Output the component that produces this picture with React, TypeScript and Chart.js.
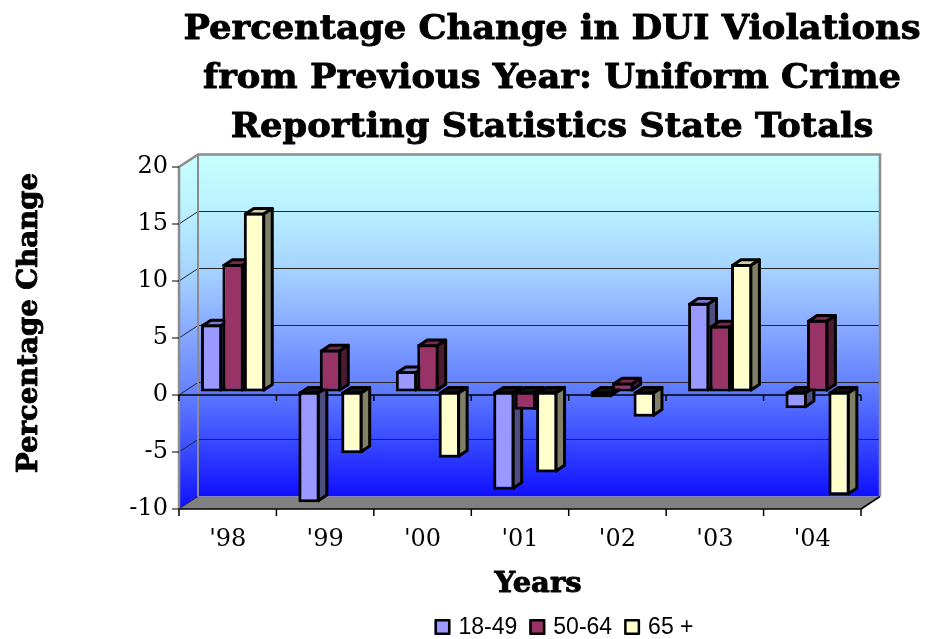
import React, { useEffect, useRef } from "react";
import { Chart, registerables } from "chart.js";

Chart.register(...registerables);

// ---------- data ----------
const categories = ["'98", "'99", "'00", "'01", "'02", "'03", "'04"];
const seriesLabels = ["18-49", "50-64", "65 +"];
const age18to49 = [5.9, -9.7, 1.8, -8.6, -0.5, 7.8, -1.45];
const age50to64 = [11.2, 3.7, 4.15, -1.6, 0.8, 5.8, 6.3];
const age65plus = [15.7, -5.4, -5.8, -7.1, -2.2, 11.2, -9.1];
const yMin = -10;
const yMax = 20;
const yStep = 5;
const titleLines = [
  "Percentage Change in DUI Violations",
  "from Previous Year: Uniform Crime",
  "Reporting Statistics State Totals",
];
const xTitle = "Years";
const yTitle = "Percentage Change";

// ---------- styles ----------
const frontColors = ["#9999ff", "#993366", "#ffffcc"];
const topColors = ["#7b7bcf", "#7a2a52", "#cfcfa5"];
const sideColors = ["#4d4d80", "#4d1a33", "#808066"];
const SERIF = "'DejaVu Serif'";
const SANS = "'Liberation Sans'";

const WALL_DX = 19;
const WALL_DY = -12.5;
const BAR_DX = 5.4;
const BAR_DY = -3.4;
const DEPTH_DX = 8.5;
const DEPTH_DY = -5.7;
const BW = 3;

function wallGradient(ctx: CanvasRenderingContext2D, y0: number, y1: number) {
  const g = ctx.createLinearGradient(0, y0, 0, y1);
  g.addColorStop(0, "#c8ffff");
  g.addColorStop(0.167, "#b8f0ff");
  g.addColorStop(0.333, "#a6d4ff");
  g.addColorStop(0.5, "#88aaff");
  g.addColorStop(0.667, "#6482ff");
  g.addColorStop(0.833, "#3a4cff");
  g.addColorStop(1, "#0f0fff");
  return g;
}

function poly(ctx: CanvasRenderingContext2D, pts: number[][]) {
  ctx.beginPath();
  ctx.moveTo(pts[0][0], pts[0][1]);
  for (let i = 1; i < pts.length; i++) ctx.lineTo(pts[i][0], pts[i][1]);
  ctx.closePath();
}

function line(ctx: CanvasRenderingContext2D, x0: number, y0: number, x1: number, y1: number) {
  ctx.beginPath();
  ctx.moveTo(x0, y0);
  ctx.lineTo(x1, y1);
  ctx.stroke();
}

function heavyText(ctx: CanvasRenderingContext2D, t: string, x: number, y: number) {
  ctx.fillText(t, x, y);
  ctx.strokeText(t, x, y);
}

const threeDPlugin = {
  id: "threeD",
  beforeDraw(chart: any) {
    const ctx: CanvasRenderingContext2D = chart.ctx;
    const { left, right, top, bottom } = chart.chartArea;
    const ys = chart.scales.y;
    const n = categories.length;
    const bl = left + WALL_DX;
    const br = right + WALL_DX;
    const bt = top + WALL_DY;
    const bb = bottom + WALL_DY;
    ctx.save();
    // back wall
    ctx.fillStyle = wallGradient(ctx, bt, bb);
    ctx.fillRect(bl, bt, br - bl, bb - bt);
    // left wall
    ctx.fillStyle = wallGradient(ctx, bt, bottom);
    poly(ctx, [[left, top], [bl, bt], [bl, bb], [left, bottom]]);
    ctx.fill();
    // floor
    ctx.fillStyle = "#808080";
    poly(ctx, [[left, bottom], [bl, bb], [br, bb], [right, bottom]]);
    ctx.fill();
    // gridlines
    ctx.strokeStyle = "#262626";
    ctx.lineWidth = 1;
    for (let v = yMin; v < yMax; v += yStep) {
      const py = ys.getPixelForValue(v);
      if (v > yMin) line(ctx, bl, py + WALL_DY, br, py + WALL_DY);
      line(ctx, left, py, bl, py + WALL_DY);
    }
    // wall borders
    ctx.strokeStyle = "#8c8c8c";
    ctx.lineWidth = 2.5;
    ctx.beginPath();
    ctx.moveTo(left, bottom);
    ctx.lineTo(left, top);
    ctx.lineTo(bl, bt);
    ctx.lineTo(br, bt);
    ctx.lineTo(br, bb);
    ctx.stroke();
    ctx.lineWidth = 2;
    line(ctx, bl, bt, bl, bb);
    // floor right edge + bottom axis
    ctx.strokeStyle = "#000";
    ctx.lineWidth = 1.5;
    line(ctx, right, bottom, br, bb);
    line(ctx, left, bottom, right, bottom);
    const y0 = ys.getPixelForValue(0);
    line(ctx, left, y0, right, y0);
    for (let i = 0; i <= n; i++) {
      const px = left + (i * (right - left)) / n;
      line(ctx, px, bottom, px, bottom + 7);
      line(ctx, px, y0, px, y0 + 6);
    }
    // y ticks
    ctx.lineWidth = 1;
    for (let v = yMin; v <= yMax; v += yStep) {
      const py = ys.getPixelForValue(v);
      line(ctx, left - 7, py, left, py);
    }
    ctx.restore();
  },
  beforeDatasetDraw() {
    return false;
  },
  afterDatasetsDraw(chart: any) {
    const ctx: CanvasRenderingContext2D = chart.ctx;
    const metas = chart.data.datasets.map((_: any, i: number) => chart.getDatasetMeta(i));
    ctx.save();
    ctx.translate(BAR_DX, BAR_DY);
    const h = BW / 2;
    for (let c = 0; c < categories.length; c++) {
      metas.forEach((meta: any, d: number) => {
        const el = meta.data[c];
        if (!el) return;
        el.draw(ctx);
        const { x, y, base, width } = el.getProps(["x", "y", "base", "width"], true);
        const L = x - width / 2 + h;
        const R = x + width / 2 - h;
        const positive = y <= base;
        const T = Math.min(y, base) + h;
        const B = Math.max(y, base) - h;
        ctx.lineWidth = BW;
        ctx.lineJoin = "round";
        ctx.strokeStyle = "#000";
        // top face
        poly(ctx, [[L, T], [L + DEPTH_DX, T + DEPTH_DY], [R + DEPTH_DX, T + DEPTH_DY], [R, T]]);
        ctx.fillStyle = positive ? topColors[d] : "#111111";
        ctx.fill();
        ctx.stroke();
        // side face
        poly(ctx, [[R, T], [R + DEPTH_DX, T + DEPTH_DY], [R + DEPTH_DX, B + DEPTH_DY], [R, B]]);
        ctx.fillStyle = sideColors[d];
        ctx.fill();
        ctx.stroke();
      });
    }
    ctx.restore();
  },
  afterDraw(chart: any) {
    const ctx: CanvasRenderingContext2D = chart.ctx;
    ctx.save();
    ctx.fillStyle = "#000";
    ctx.strokeStyle = "#000";
    ctx.lineWidth = 0.9;
    ctx.lineJoin = "round";
    ctx.textAlign = "center";
    ctx.textBaseline = "alphabetic";
    // title
    ctx.font = `bold 34px ${SERIF}`;
    const w1 = ctx.measureText(titleLines[0]).width;
    const sx = 737 / w1;
    titleLines.forEach((t, i) => {
      ctx.save();
      ctx.translate(552, 39 + i * 49);
      ctx.scale(sx, 1);
      heavyText(ctx, t, 0, 0);
      ctx.restore();
    });
    // y title
    ctx.font = `bold 27px ${SERIF}`;
    const wy = ctx.measureText(yTitle).width;
    ctx.save();
    ctx.translate(37, 323);
    ctx.rotate(-Math.PI / 2);
    ctx.scale(300 / wy, 1);
    heavyText(ctx, yTitle, 0, 0);
    ctx.restore();
    // x title
    const wx = ctx.measureText(xTitle).width;
    ctx.save();
    ctx.translate(538, 592);
    ctx.scale(87 / wx, 1);
    heavyText(ctx, xTitle, 0, 0);
    ctx.restore();
    // legend
    ctx.font = `23px ${SANS}`;
    ctx.textAlign = "left";
    ctx.textBaseline = "middle";
    const box = 16;
    const gap = 8;
    const itemGap = 12;
    const widths = seriesLabels.map((s) => ctx.measureText(s).width);
    const total = widths.reduce((a, w) => a + box + gap + w, 0) + itemGap * (seriesLabels.length - 1);
    let lx = 564 - total / 2;
    const ly = 627;
    seriesLabels.forEach((s, i) => {
      ctx.fillStyle = frontColors[i];
      ctx.fillRect(lx, ly - box / 2, box, box);
      ctx.strokeStyle = "#000";
      ctx.lineWidth = 2.5;
      ctx.strokeRect(lx + 1.25, ly - box / 2 + 1.25, box - 2.5, box - 2.5);
      ctx.fillStyle = "#000";
      ctx.fillText(s, lx + box + gap, ly + 1);
      lx += box + gap + widths[i] + itemGap;
    });
    ctx.restore();
  },
};

export default function App() {
  const ref = useRef<HTMLCanvasElement | null>(null);
  useEffect(() => {
    document.body.style.margin = "0";
    const canvas = ref.current;
    if (!canvas) return;
    const series = [age18to49, age50to64, age65plus];
    const chart = new Chart(canvas, {
      type: "bar",
      data: {
        labels: categories,
        datasets: series.map((data, i) => ({
          label: seriesLabels[i],
          data,
          backgroundColor: frontColors[i],
          borderColor: "#000",
          borderWidth: BW,
          borderSkipped: false,
          categoryPercentage: 0.66,
          barPercentage: 1,
        })),
      },
      options: {
        responsive: false,
        animation: false,
        devicePixelRatio: 1,
        layout: { padding: { left: 0, right: 67, top: 167, bottom: 70 } },
        plugins: {
          legend: { display: false },
          title: { display: false },
          tooltip: { enabled: false },
        },
        scales: {
          x: {
            grid: { display: false, drawTicks: false },
            border: { display: false },
            ticks: { font: { family: "DejaVu Serif", size: 24 }, color: "#000", padding: 16 },
            afterFit: (s: any) => {
              s.height = 60;
            },
          },
          y: {
            min: yMin,
            max: yMax,
            grid: { display: false, drawTicks: false },
            border: { display: false },
            ticks: { stepSize: yStep, font: { family: "DejaVu Serif", size: 24 }, color: "#000", padding: 11 },
            afterFit: (s: any) => {
              s.width = 179;
            },
          },
        },
      } as any,
      plugins: [threeDPlugin as any],
    });
    return () => chart.destroy();
  }, []);
  return (
    <div style={{ width: 928, height: 639 }}>
      <canvas ref={ref} width={928} height={639} style={{ display: "block" }} />
    </div>
  );
}
